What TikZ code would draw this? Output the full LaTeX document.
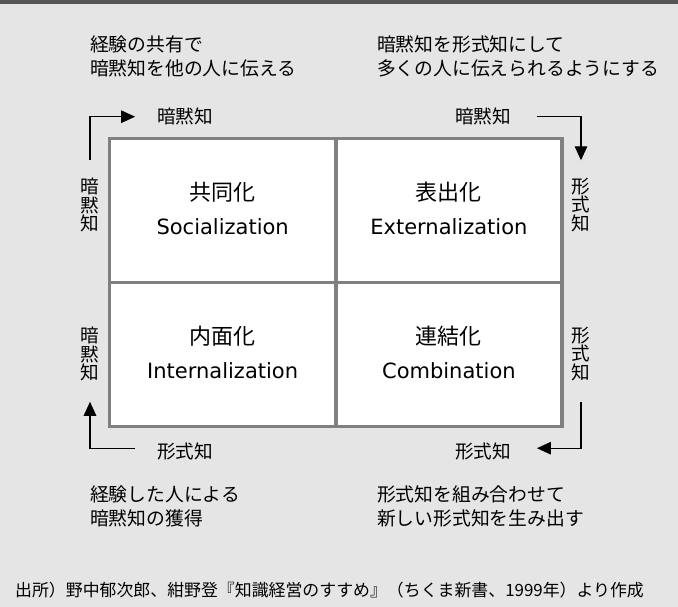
\documentclass[tikz,border=0pt]{standalone}
\usepackage{fontspec}
\setmainfont{Noto Sans CJK JP}
\newfontfamily\latinfont{DejaVu Sans}
\usetikzlibrary{arrows.meta}
\definecolor{bgc}{HTML}{E5E5E5}
\definecolor{barc}{HTML}{565557}
\definecolor{gridc}{HTML}{808080}
\tikzset{
  txt/.style={inner sep=0pt, outer sep=0pt, font=\fontsize{18.8}{24.5}\selectfont, align=left, anchor=west},
  lab/.style={inner sep=0pt, outer sep=0pt, font=\fontsize{18.6}{18.6}\selectfont},
  vlab/.style={inner sep=0pt, outer sep=0pt, font=\fontsize{18.6}{18.3}\selectfont, align=center},
  cell/.style={draw=gridc, line width=3.5pt, fill=white, minimum width=226.25pt, minimum height=144pt, inner sep=0pt},
  ttl/.style={inner sep=0pt, font=\fontsize{22}{22}\selectfont},
  sub/.style={inner sep=0pt, font=\latinfont\fontsize{21}{21}\selectfont},
  arr/.style={line width=1.3pt, -{Triangle[length=14pt,width=12.5pt]}}
}
\begin{document}
\begin{tikzpicture}[x=1pt,y=-1pt]
\useasboundingbox (0,0) rectangle (678,607);
\fill[bgc] (0,0) rectangle (678,607);
\fill[barc] (0,0) rectangle (678,4.5);
% top texts
\node[txt] (tl) at (90,56.5) {経験の共有で\\暗黙知を他の人に伝える};
\node[txt] (tr) at (377,56.5) {暗黙知を形式知にして\\多くの人に伝えられるようにする};
% cells
\node[cell] (soc) at (222.625,210.5) {};
\node[cell] (ext) at (448.875,210.5) {};
\node[cell] (int) at (222.625,354.5) {};
\node[cell] (com) at (448.875,354.5) {};
\node[ttl] (soct) at ([yshift=18.5pt]soc.center) {共同化};
\node[sub] (socs) at ([yshift=-16.5pt]soc.center) {Socialization};
\node[ttl] (extt) at ([yshift=18.5pt]ext.center) {表出化};
\node[sub] (exts) at ([yshift=-16.5pt]ext.center) {Externalization};
\node[ttl] (intt) at ([yshift=18.5pt]int.center) {内面化};
\node[sub] (ints) at ([yshift=-16.5pt]int.center) {Internalization};
\node[ttl] (comt) at ([yshift=18.5pt]com.center) {連結化};
\node[sub] (coms) at ([yshift=-16.5pt]com.center) {Combination};
% labels
\node[lab] (th1) at (185,116.7) {暗黙知};
\node[lab] (th2) at (483,116.7) {暗黙知};
\node[lab] (bh1) at (185,451.7) {形式知};
\node[lab] (bh2) at (483,451.7) {形式知};
\node[vlab] (lv1) at (90,205) {暗\\黙\\知};
\node[vlab] (rv1) at (581,205) {形\\式\\知};
\node[vlab] (lv2) at (90,354) {暗\\黙\\知};
\node[vlab] (rv2) at (581,354) {形\\式\\知};
% arrows
\draw[arr, shorten <=18pt, shorten >=22pt] (lv1.north) |- (th1.west);
\draw[arr, shorten <=26pt, shorten >=18pt] (th2.east) -| (rv1.north);
\draw[arr, shorten <=21pt, shorten >=26pt] (rv2.south) |- ([yshift=3.5pt]bh2.east);
\draw[arr, shorten <=22pt, shorten >=21pt] ([yshift=3.5pt]bh1.west) -| (lv2.south);
% bottom texts
\node[txt] (bl) at (90,506.5) {経験した人による\\暗黙知の獲得};
\node[txt] (br) at (377,506.5) {形式知を組み合わせて\\新しい形式知を生み出す};
% footer
\node[inner sep=0pt, anchor=west, font=\fontsize{16.9}{16.9}\selectfont] (src) at (15,590) {出所）野中郁次郎、紺野登『知識経営のすすめ』（ちくま新書、1999年）より作成};
\end{tikzpicture}
\end{document}
